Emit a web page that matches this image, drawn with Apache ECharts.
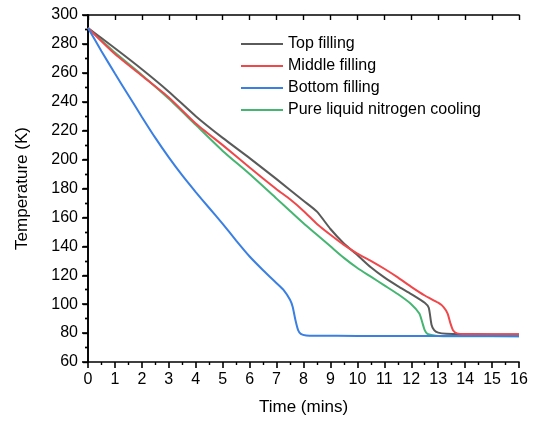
<!DOCTYPE html>
<html><head><meta charset="utf-8">
<script src="https://cdn.jsdelivr.net/npm/echarts@6/dist/echarts.min.js"></script>
<style>html,body{margin:0;padding:0;background:#fff}#c{width:534px;height:421px}</style>
</head><body><div id="c"></div>
<script>
const seriesNames = ['Top filling','Middle filling','Bottom filling','Pure liquid nitrogen cooling'];
const colors = ['#5a5a5a','#f0474a','#3a7fe3','#45b572'];

const topT = [0,1,2,3,4,5,6,7,8,8.5,9,9.5,10,10.5,11,11.5,12,12.5,12.65,12.75,12.85,13,13.3,14,15,16];
const topV = [291,277,262.5,247,230,215,201,186.5,171.5,164,152,142,134,125.5,118.5,112.5,107,101,97.5,86,82,80.3,79.5,79.2,79.1,79];

const midT = [0,1,2,3,4,5,6,7,7.5,8,8.5,9,9.5,10,10.5,11,11.5,12,12.5,13,13.2,13.35,13.45,13.55,13.7,14,15,16];
const midV = [291,273,258,243,225,210,194.5,179.5,172.5,164.5,155.5,148,141,135,130,124.5,118.5,112,106,101,98,93.5,87,82,79.8,79.3,79.2,79.2];

const botT = [0,0.5,1,1.5,2,2.5,3,3.5,4,4.5,5,5.5,6,6.5,7,7.25,7.5,7.6,7.7,7.8,7.9,8.1,8.5,10,12,14,16];
const botV = [291,275,259.5,244.5,229.5,215,201.5,189,177.5,166.5,155.5,144,133,123.5,114.5,110,103,98,89,82,79.5,78.4,78.2,78,78,78,77.8];

const lnT = [0,1,2,3,4,5,6,7,7.5,8,8.5,9,9.5,10,10.5,11,11.5,12,12.3,12.4,12.5,12.6,12.8,13,14,15,16];
const lnV = [291,274,258.5,242,224,206,190,173,164.5,156,148,140,132,125,119,113,107,100,93.5,88,82,79.5,78.5,78,77.8,77.8,77.8];

const xTicks = {min:0, max:16, interval:1};
const yTicks = {min:60, max:300, interval:20};

const FONT = 'Liberation Sans, Arial, sans-serif';
const pair = (t,v) => t.map((x,i)=>[x,v[i]]);
const allT = [topT, midT, botT, lnT];
const allV = [topV, midV, botV, lnV];

const axLine = {show:true, lineStyle:{color:'#000', width:1.6}};
const chart = echarts.init(document.getElementById('c'), null, {renderer:'canvas'});
chart.setOption({
  animation:false,
  backgroundColor:'#fff',
  grid:{left:88, right:15, top:15, bottom:57},
  legend:{
    orient:'vertical', left:236, top:30, itemWidth:42, itemHeight:2, itemGap:4, icon:'rect',
    textStyle:{fontSize:16, color:'#000', fontFamily:FONT, lineHeight:18},
    data: seriesNames
  },
  xAxis:[
    {type:'value', position:'bottom', min:xTicks.min, max:xTicks.max, interval:xTicks.interval,
     axisLine:axLine, axisTick:{show:true, inside:false, length:6, lineStyle:{color:'#000', width:1.6}},
     minorTick:{show:true, splitNumber:2, length:3, lineStyle:{color:'#000', width:1.4}},
     splitLine:{show:false},
     axisLabel:{fontSize:16, color:'#000', fontFamily:FONT, margin:10},
     name:'Time (mins)', nameLocation:'middle', nameGap:37,
     nameTextStyle:{fontSize:17, color:'#000', fontFamily:FONT}},
    {type:'value', position:'top', min:xTicks.min, max:xTicks.max, interval:xTicks.interval,
     axisLine:axLine, axisTick:{show:true, inside:true, length:5, lineStyle:{color:'#000', width:1.4}},
     axisLabel:{show:false}, splitLine:{show:false}}
  ],
  yAxis:[
    {type:'value', position:'left', min:yTicks.min, max:yTicks.max, interval:yTicks.interval,
     axisLine:axLine, axisTick:{show:true, inside:false, length:6, lineStyle:{color:'#000', width:1.6}},
     minorTick:{show:true, splitNumber:2, length:3, lineStyle:{color:'#000', width:1.4}},
     splitLine:{show:false},
     axisLabel:{fontSize:16, color:'#000', fontFamily:FONT, margin:10},
     name:'Temperature (K)', nameLocation:'middle', nameGap:57,
     nameTextStyle:{fontSize:17, color:'#000', fontFamily:FONT}},
    {type:'value', position:'right', min:yTicks.min, max:yTicks.max, interval:yTicks.interval,
     axisLine:axLine, axisTick:{show:true, inside:true, length:5, lineStyle:{color:'#000', width:1.4}},
     minorTick:{show:true, splitNumber:2, length:3, lineStyle:{color:'#000', width:1.4}},
     axisLabel:{show:false}, splitLine:{show:false}}
  ],
  series: seriesNames.map((n,i)=>({
    name:n, type:'line', xAxisIndex:0, yAxisIndex:0,
    data: pair(allT[i], allV[i]),
    symbol:'none', smooth:0.2,
    lineStyle:{color:colors[i], width:2}, itemStyle:{color:colors[i]},
    z: [2,3,4,1][i]
  }))
});
</script></body></html>
